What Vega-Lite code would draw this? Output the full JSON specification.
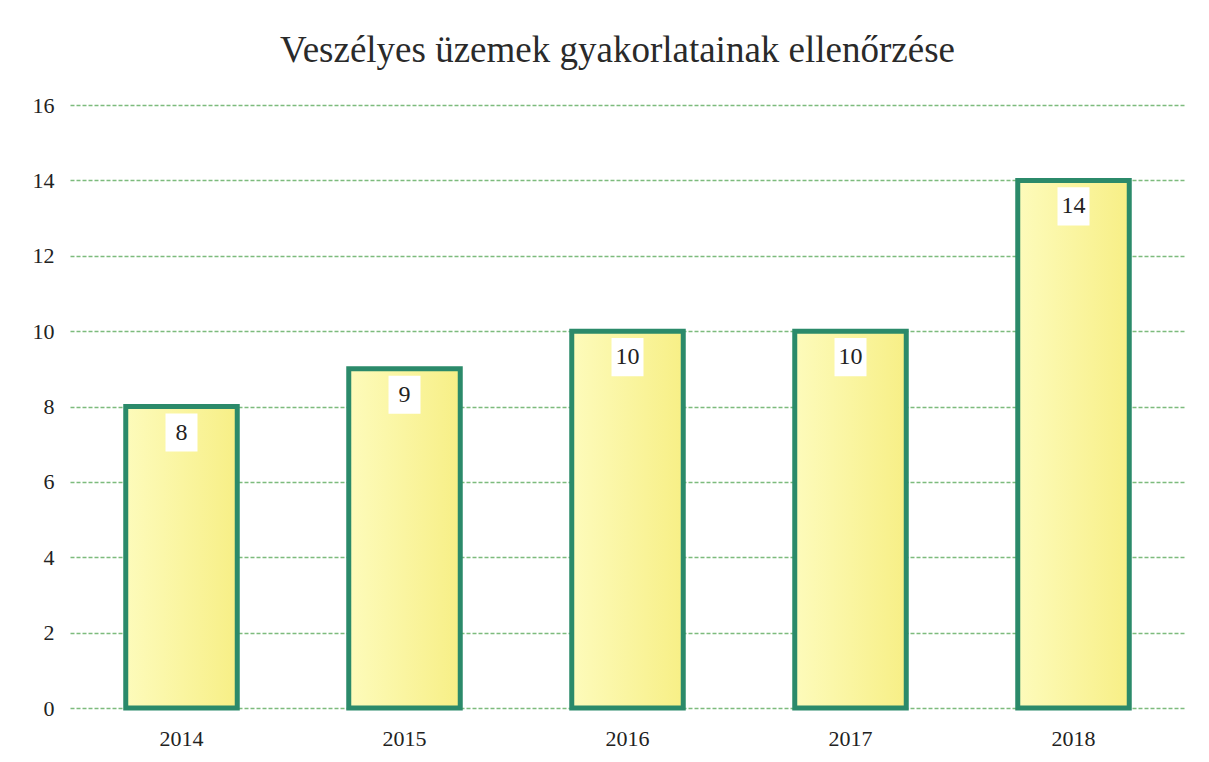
{
  "$schema": "https://vega.github.io/schema/vega-lite/v6.json",
  "width": 1115,
  "height": 603,
  "autosize": "none",
  "padding": {"left": 70, "top": 105, "right": 24, "bottom": 54},
  "background": "white",
  "title": {
    "text": "Veszélyes üzemek gyakorlatainak ellenőrzése",
    "font": "Liberation Serif",
    "fontSize": 37,
    "fontWeight": "normal",
    "color": "#2a2a2a",
    "anchor": "middle",
    "offset": 24,
    "dx": -10
  },
  "data": {
    "values": [
      {"year": "2014", "count": 8},
      {"year": "2015", "count": 9},
      {"year": "2016", "count": 10},
      {"year": "2017", "count": 10},
      {"year": "2018", "count": 14}
    ]
  },
  "config": {
    "view": {"stroke": null},
    "axis": {
      "labelFont": "Liberation Serif",
      "labelFontSize": 22,
      "labelColor": "#222222",
      "domain": false,
      "ticks": false,
      "title": null
    }
  },
  "encoding": {
    "x": {
      "field": "year",
      "type": "ordinal",
      "scale": {"paddingInner": 0.5, "paddingOuter": 0.25},
      "axis": {"labelAngle": 0, "labelPadding": 20, "grid": false}
    }
  },
  "layer": [
    {
      "mark": {
        "type": "bar",
        "stroke": "#2b8a6a",
        "strokeWidth": 5,
        "fill": {
          "x1": 0, "y1": 0, "x2": 1, "y2": 0,
          "gradient": "linear",
          "stops": [
            {"offset": 0, "color": "#fdfbbb"},
            {"offset": 1, "color": "#f7ef86"}
          ]
        }
      },
      "encoding": {
        "y": {
          "field": "count",
          "type": "quantitative",
          "scale": {"domain": [0, 16]},
          "axis": {
            "values": [0, 2, 4, 6, 8, 10, 12, 14, 16],
            "labelPadding": 16,
            "grid": true,
            "gridColor": "#7dbb7d",
            "gridDash": [4, 2],
            "gridWidth": 1.5
          }
        }
      }
    },
    {
      "mark": {
        "type": "point",
        "shape": "M-0.42,-0.5H0.42V0.5H-0.42Z",
        "size": 5800,
        "filled": true,
        "fill": "white",
        "opacity": 1,
        "strokeWidth": 0,
        "yOffset": 26
      },
      "encoding": {
        "y": {"field": "count", "type": "quantitative"}
      }
    },
    {
      "mark": {
        "type": "text",
        "font": "Liberation Serif",
        "fontSize": 24,
        "color": "#222222",
        "baseline": "middle",
        "yOffset": 26
      },
      "encoding": {
        "y": {"field": "count", "type": "quantitative"},
        "text": {"field": "count", "type": "quantitative"}
      }
    }
  ]
}
